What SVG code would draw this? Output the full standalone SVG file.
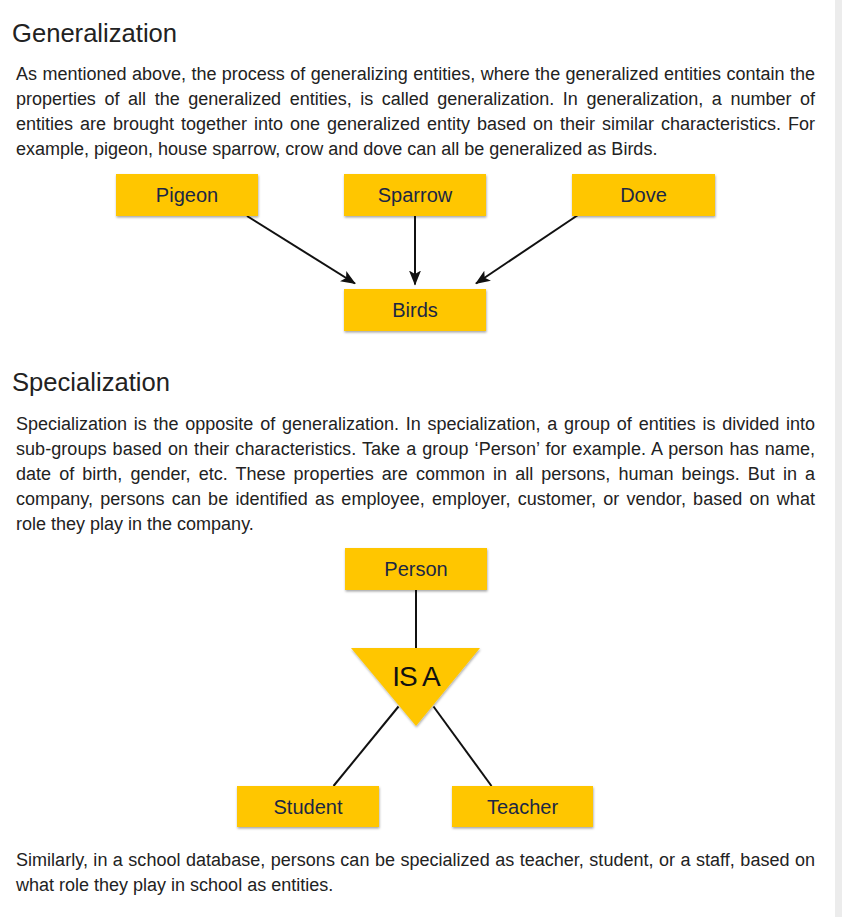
<svg xmlns="http://www.w3.org/2000/svg" width="842" height="917" viewBox="0 0 842 917">
<style>
  .h { font-family: "Liberation Sans", Arial, sans-serif; font-size: 25.6px; fill: #222; }
  .p { font-family: "Liberation Sans", Arial, sans-serif; font-size: 18px; fill: #222; }
  .box { fill: #FFC600; filter: url(#sh); }
  .lbl { font-family: "Liberation Sans", Arial, sans-serif; font-size: 20px; fill: #1c2744; text-anchor: middle; }
  .isa { font-family: "Liberation Sans", Arial, sans-serif; font-size: 28px; fill: #111; text-anchor: middle; letter-spacing: -1px; }
  .conn { stroke: #111; stroke-width: 2; fill: none; }
</style>
<defs>
  <filter id="sh" x="-10%" y="-20%" width="120%" height="150%">
    <feDropShadow dx="0.5" dy="1.5" stdDeviation="1.2" flood-color="#000" flood-opacity="0.35"/>
  </filter>
  <marker id="ah" markerUnits="userSpaceOnUse" markerWidth="15" markerHeight="13" refX="14" refY="6" orient="auto">
    <path d="M0,0 L15,6 L0,12 L3.5,6 z" fill="#111"/>
  </marker>
</defs>
<rect x="0" y="0" width="842" height="917" fill="#fff"/>
<rect x="835" y="0" width="7" height="917" fill="#ececec"/>

<text class="h" x="12" y="42">Generalization</text>
<text class="p" x="16" y="80" word-spacing="0.43" textLength="799" lengthAdjust="spacing">As mentioned above, the process of generalizing entities, where the generalized entities contain the</text>
<text class="p" x="16" y="105" word-spacing="3.64" textLength="799" lengthAdjust="spacing">properties of all the generalized entities, is called generalization. In generalization, a number of</text>
<text class="p" x="16" y="130" word-spacing="1.95" textLength="799" lengthAdjust="spacing">entities are brought together into one generalized entity based on their similar characteristics. For</text>
<text class="p" x="16" y="155">example, pigeon, house sparrow, crow and dove can all be generalized as Birds.</text>

<g id="connectors">
  <line class="conn" x1="247" y1="216" x2="355" y2="283.5" marker-end="url(#ah)"/>
  <line class="conn" x1="415" y1="216" x2="415" y2="284.5" marker-end="url(#ah)"/>
  <line class="conn" x1="578" y1="215" x2="476" y2="283.5" marker-end="url(#ah)"/>
  <line class="conn" x1="416" y1="590" x2="416" y2="648"/>
  <line class="conn" x1="398.5" y1="706.5" x2="333.5" y2="786"/>
  <line class="conn" x1="433.5" y1="706.5" x2="491.5" y2="786"/>
</g>

<g id="pigeon">
  <rect class="box" x="116" y="174" width="142" height="42"/>
  <text class="lbl" x="187" y="202">Pigeon</text>
</g>
<g id="sparrow">
  <rect class="box" x="344" y="174" width="142" height="42"/>
  <text class="lbl" x="415" y="202">Sparrow</text>
</g>
<g id="dove">
  <rect class="box" x="572" y="174" width="143" height="42"/>
  <text class="lbl" x="643.5" y="202">Dove</text>
</g>
<g id="birds">
  <rect class="box" x="344" y="289" width="142" height="42"/>
  <text class="lbl" x="415" y="317">Birds</text>
</g>

<text class="h" x="12" y="391">Specialization</text>
<text class="p" x="16" y="430" word-spacing="1.8" textLength="799" lengthAdjust="spacing">Specialization is the opposite of generalization. In specialization, a group of entities is divided into</text>
<text class="p" x="16" y="455" word-spacing="0.98" textLength="799" lengthAdjust="spacing">sub-groups based on their characteristics. Take a group ‘Person’ for example. A person has name,</text>
<text class="p" x="16" y="480" word-spacing="3.04" textLength="799" lengthAdjust="spacing">date of birth, gender, etc. These properties are common in all persons, human beings. But in a</text>
<text class="p" x="16" y="505" word-spacing="2.12" textLength="799" lengthAdjust="spacing">company, persons can be identified as employee, employer, customer, or vendor, based on what</text>
<text class="p" x="16" y="529.5">role they play in the company.</text>

<g id="person">
  <rect class="box" x="345" y="548" width="142" height="42"/>
  <text class="lbl" x="416" y="576">Person</text>
</g>
<g id="isa">
  <polygon class="box" points="351,648 480,648 416,726"/>
  <text class="isa" x="416" y="685.5">IS A</text>
</g>
<g id="student">
  <rect class="box" x="237" y="786" width="142" height="41"/>
  <text class="lbl" x="308" y="814">Student</text>
</g>
<g id="teacher">
  <rect class="box" x="452" y="786" width="141" height="41"/>
  <text class="lbl" x="522.5" y="814">Teacher</text>
</g>

<text class="p" x="16" y="865.5" word-spacing="0.41" textLength="799" lengthAdjust="spacing">Similarly, in a school database, persons can be specialized as teacher, student, or a staff, based on</text>
<text class="p" x="16" y="890.5">what role they play in school as entities.</text>
</svg>
